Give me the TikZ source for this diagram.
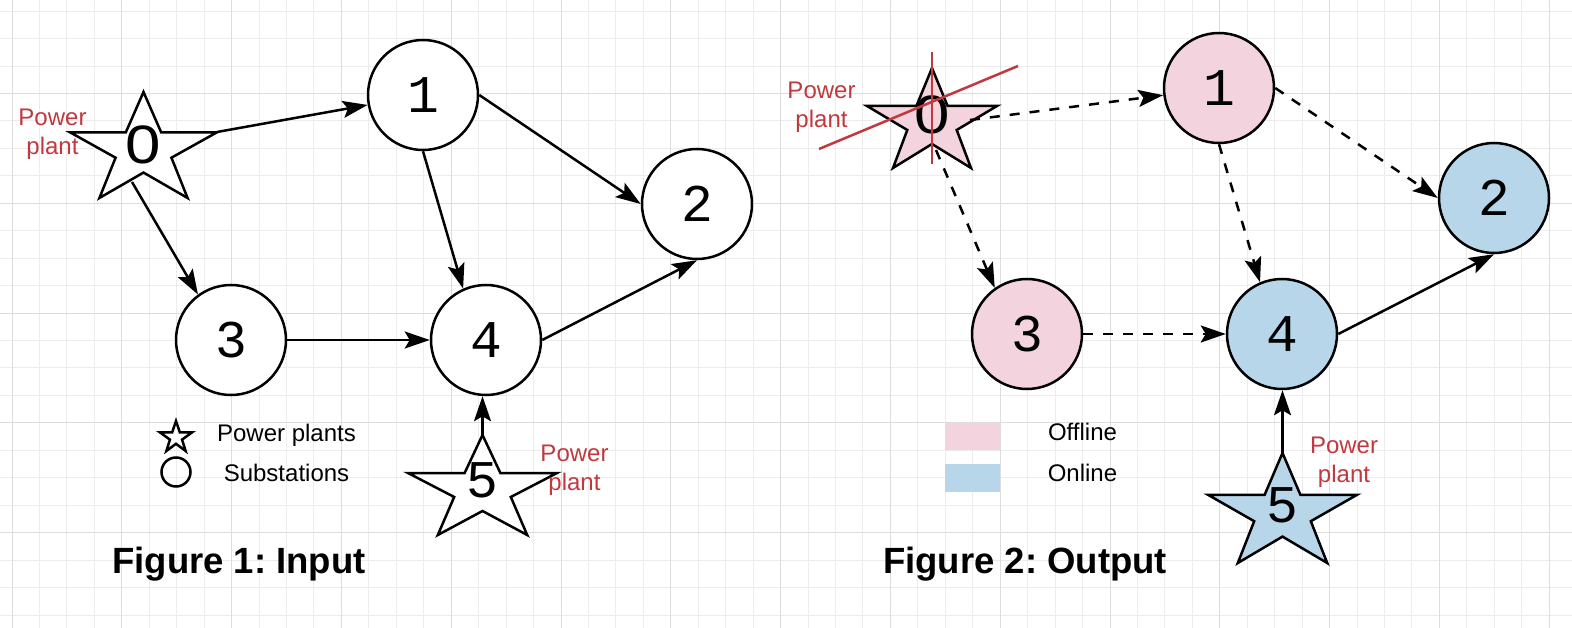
\documentclass[tikz,border=0pt]{standalone}
\usepackage{fontspec}
\setmainfont{Liberation Sans}
\newfontfamily\digitfont{Liberation Mono}
\newfontfamily\zerofont{Liberation Sans}
\usetikzlibrary{arrows.meta}
\definecolor{offpink}{RGB}{243,211,222}
\definecolor{onblue}{RGB}{184,214,234}
\definecolor{labred}{RGB}{192,57,63}
\definecolor{gridminor}{RGB}{236,236,236}
\definecolor{gridmajor}{RGB}{221,221,221}
\newcommand\drawstar[5]{%
  \begin{scope}[shift={(#1,#2)},xscale=#3,yscale=#4]
    \draw[starline,#5] (0,0.38) -- (0.38,0.38) -- (0.5,0) -- (0.62,0.38) -- (1,0.38) -- (0.69,0.62) -- (0.8,1) -- (0.5,0.76) -- (0.2,1) -- (0.31,0.62) -- cycle;
  \end{scope}}
\newcommand\zeroglyph{\scalebox{1.2}[1.02]{\zerofont 0}}
\tikzset{
  starline/.style={line width=2.5pt, line join=miter, draw=black},
  sub/.style={circle, draw, line width=2.5pt, minimum size=110pt, inner sep=0pt, font=\digitfont\fontsize{53}{53}\selectfont},
  num/.style={inner sep=0pt, font=\digitfont\fontsize{53}{53}\selectfont},
  edge/.style={line width=2.5pt, -{Stealth[length=25pt,width=17pt,inset=5pt]}},
  dedge/.style={edge, dash pattern=on 10pt off 10pt},
  lab/.style={text=labred, align=center, inner sep=0pt, font=\fontsize{24}{29}\selectfont},
  leg/.style={inner sep=0pt, font=\fontsize{24}{29}\selectfont},
  ttl/.style={inner sep=0pt, font=\bfseries\fontsize{36.5}{40}\selectfont},
  cross/.style={draw=labred, line width=2.5pt},
}
\begin{document}
\frenchspacing
\begin{tikzpicture}[x=1pt,y=-1pt]
\useasboundingbox (0,0) rectangle (1572,628);
\fill[white] (0,0) rectangle (1572,628);
% grid
\foreach \i in {0,...,56} {\pgfmathsetmacro\xx{12+27.45*\i}\draw[gridminor,line width=1pt] (\xx,0) -- (\xx,628);}
\foreach \i in {0,...,22} {\pgfmathsetmacro\yy{11.15+27.45*\i}\draw[gridminor,line width=1pt] (0,\yy) -- (1572,\yy);}
\foreach \i in {0,...,14} {\pgfmathsetmacro\xx{12+109.8*\i}\draw[gridmajor,line width=1pt] (\xx,0) -- (\xx,628);}
\foreach \i in {0,...,4} {\pgfmathsetmacro\yy{93.5+109.8*\i}\draw[gridmajor,line width=1pt] (0,\yy) -- (1572,\yy);}

% ---------------- Figure 1 ----------------
\drawstar{70}{92}{147}{106}{fill=white}
\node[num] (s0) at (143,145) {\zeroglyph};
\drawstar{408}{435}{149}{100}{fill=white}
\node[num] (s5) at (482,480.5) {5};
\node[sub, fill=white] (n1) at (423,95) {1};
\node[sub, fill=white] (n2) at (697,204) {2};
\node[sub, fill=white] (n3) at (231,340) {3};
\node[sub, fill=white] (n4) at (486,340) {4};
\coordinate (a0r) at (217,132);
\coordinate (a0b) at (132,182);
\coordinate (a5t) at (482.5,435);
\draw[edge] (a0r) -- (n1);
\draw[edge] (a0b) -- (n3.126);
\draw[edge] (n1.east) -- (n2.west);
\draw[edge] (n1.south) -- (n4.114);
\draw[edge] (n3) -- (n4);
\draw[edge] (n4.east) -- (n2.south);
\draw[edge] (a5t) -- (a5t |- n4.south);
\node[lab] (l0) at (52.5,134) {Power\\plant};
\node[lab] (l5) at (574.5,470.5) {Power\\plant};
% legend 1
\drawstar{160}{421}{32}{30}{fill=white}
\node[circle, draw, line width=2.5pt, minimum size=29pt, inner sep=0pt] (lc) at (176,472) {};
\node[leg] (t1) at (286.5,435.5) {Power plants};
\node[leg] (t2) at (286.5,473) {Substations};
\node[ttl] (f1) at (239,564) {Figure 1: Input};

% ---------------- Figure 2 ----------------
\drawstar{867}{68}{130}{100}{fill=offpink}
\node[num] (r0) at (932,115) {\zeroglyph};
\draw[cross] (932,52) -- (932,164);
\draw[cross] (819,149) -- (1018,66);
\drawstar{1208}{453}{149}{110}{fill=onblue}
\node[num] (r5) at (1282,505) {5};
\node[sub, fill=offpink] (m1) at (1219,88) {1};
\node[sub, fill=onblue] (m2) at (1494,198) {2};
\node[sub, fill=offpink] (m3) at (1027,334) {3};
\node[sub, fill=onblue] (m4) at (1282,334) {4};
\coordinate (b0r) at (970,120);
\coordinate (b0b) at (936,150);
\coordinate (b5t) at (1282.5,453);
\draw[dedge] (b0r) -- (m1);
\draw[dedge] (b0b) -- (m3.125);
\draw[dedge] (m1.east) -- (m2.west);
\draw[dedge] (m1.south) -- (m4.113);
\draw[dedge] (m3) -- (m4);
\draw[edge] (m4.east) -- (m2.south);
\draw[edge] (b5t) -- (b5t |- m4.south);
\node[lab] (l0b) at (821.5,107) {Power\\plant};
\node[lab] (l5b) at (1344,462.5) {Power\\plant};
% legend 2
\node[fill=offpink, minimum width=55pt, minimum height=27pt, inner sep=0pt] (lp) at (972.5,436.5) {};
\node[fill=onblue, minimum width=55pt, minimum height=28pt, inner sep=0pt] (lb) at (972.5,478) {};
\node[leg] (t3) at (1082.5,432.4) {Offline};
\node[leg] (t4) at (1082.5,473) {Online};
\node[ttl] (f2) at (1025,564) {Figure 2: Output};
\end{tikzpicture}
\end{document}
